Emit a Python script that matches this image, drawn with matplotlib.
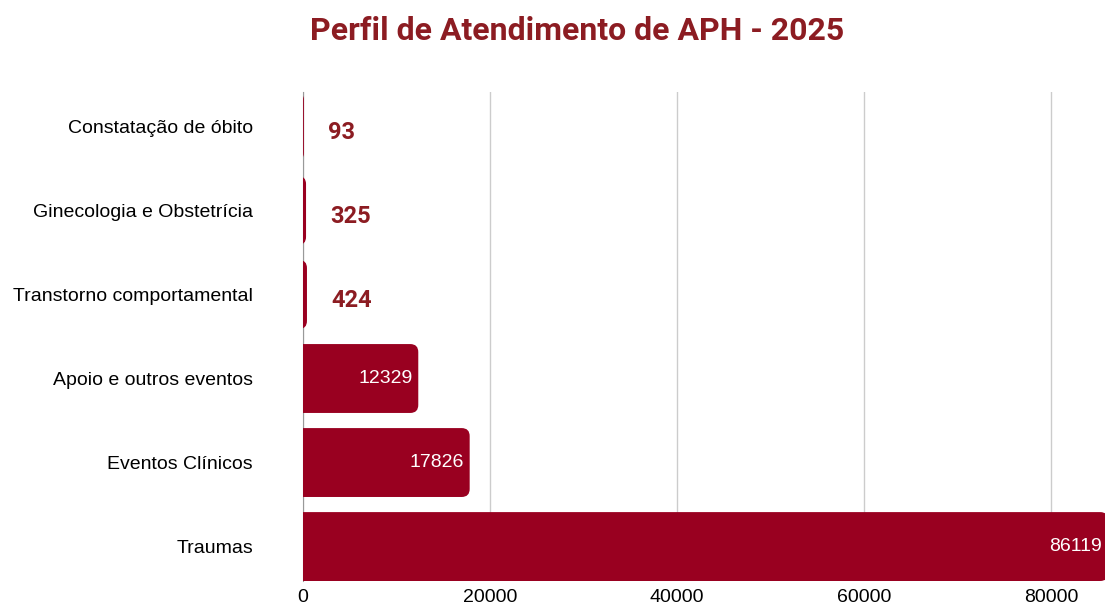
"""Perfil de Atendimento de APH - 2025, horizontal bars."""

import matplotlib

matplotlib.use("Agg")
import matplotlib.pyplot as plt
from matplotlib.patches import FancyBboxPatch

categories = [
    "Constatação de óbito",
    "Ginecologia e Obstetrícia",
    "Transtorno comportamental",
    "Apoio e outros eventos",
    "Eventos Clínicos",
    "Traumas",
]
values = [93, 325, 424, 12329, 17826, 86119]
xticks = [0, 20000, 40000, 60000, 80000]

BAR = "#990020"
DARK = "#8c1c22"
BOLD_FONT = ["Roboto", "DejaVu Sans"]
PLAIN_FONT = ["Liberation Sans", "DejaVu Sans"]

W, H = 1105, 606
px_per_unit = (1051 - 303) / 80000
xmax = 86800
bar_h = 0.82

fig = plt.figure(figsize=(W / 100, H / 100), dpi=100)
ax = fig.add_axes([303 / W, 25 / H, xmax * px_per_unit / W, 489 / H])
ax.set_xlim(0, xmax)
ax.set_ylim(len(categories) - 1 + bar_h / 2, -bar_h / 2)

# rounding radius in pixels, converted to data units on each axis
r_px = 8
r_x = r_px / px_per_unit
r_y = r_px / (489 / (len(categories) - 1 + bar_h))

for i, v in enumerate(values):
    patch = FancyBboxPatch(
        (-r_x, i - bar_h / 2), v + r_x, bar_h,
        boxstyle=f"round,pad=0,rounding_size={r_x}",
        mutation_aspect=r_y / r_x,
        facecolor=BAR, edgecolor="none", zorder=3,
    )
    ax.add_patch(patch)
    if v > 5000:
        ax.annotate(str(v), (v, i), xytext=(-6, 0), textcoords="offset pixels",
                    ha="right", va="center", color="white", fontsize=14,
                    family=PLAIN_FONT, zorder=4)
    else:
        ax.annotate(str(v), (v, i), xytext=(24, -6), textcoords="offset pixels",
                    ha="left", va="center", color=DARK, fontsize=17,
                    fontweight="bold", family=BOLD_FONT, zorder=4)

ax.set_yticks(range(len(categories)))
ax.set_yticklabels(categories, family=PLAIN_FONT, fontsize=14)
ax.set_xticks(xticks)
ax.set_xticklabels([str(t) for t in xticks], family=PLAIN_FONT, fontsize=14)
ax.tick_params(axis="y", length=0, pad=36)
ax.tick_params(axis="x", length=0, pad=6)

ax.grid(axis="x", color="#cccccc", linewidth=1, zorder=0)
ax.set_axisbelow(True)
for side in ["top", "right", "bottom"]:
    ax.spines[side].set_visible(False)
ax.spines["left"].set_color("#999999")
ax.spines["left"].set_zorder(2)

fig.text(577 / W, 1 - 31 / H, "Perfil de Atendimento de APH - 2025",
         ha="center", va="center", color=DARK, fontsize=23, fontweight="bold",
         family=BOLD_FONT)

fig.savefig("out.png", dpi=100)
